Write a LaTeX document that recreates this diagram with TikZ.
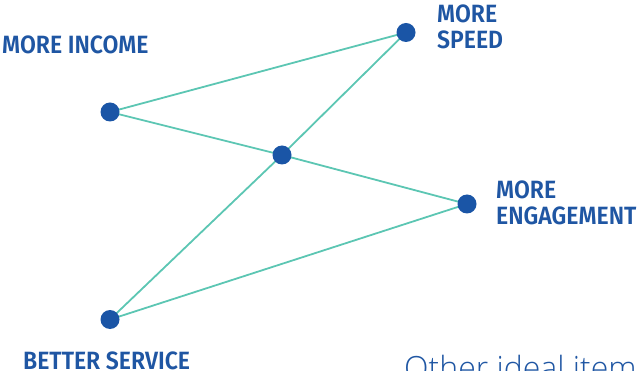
\documentclass[tikz,border=0pt]{standalone}
\usepackage{fontspec}
\setmainfont{Fira Sans}
\newfontfamily\lblfont{Fira Sans SemiBold}[FakeStretch=0.92]
\newfontfamily\otherfont{Open Sans Light}
\usetikzlibrary{backgrounds}
\definecolor{dotblue}{HTML}{1A55A6}
\definecolor{txtblue}{HTML}{1F56A3}
\definecolor{teal}{HTML}{5CC6B3}
\tikzset{
  dot/.style={circle, fill=dotblue, minimum size=19pt, inner sep=0pt},
  link/.style={draw=teal, line width=1.8pt},
  lbl/.style={anchor=base west, inner sep=0pt, text=txtblue, align=left,
    font=\lblfont\fontsize{25}{26}\selectfont},
}
\begin{document}
\begin{tikzpicture}[x=1pt, y=-1pt]
\useasboundingbox (0,0) rectangle (637,371);
\clip (0,0) rectangle (637,371);
\node[dot] (inc) at (110,112) {};
\node[dot] (spd) at (406,32.5) {};
\node[dot] (mid) at (282,155) {};
\node[dot] (eng) at (467,204) {};
\node[dot] (svc) at (110,319.5) {};
\begin{scope}[on background layer]
\draw[link] (inc.center) -- (spd.center);
\draw[link] (inc.center) -- (mid.center);
\draw[link] (mid.center) -- (spd.center);
\draw[link] (mid.center) -- (eng.center);
\draw[link] (mid.center) -- (svc.center);
\draw[link] (svc.center) -- (eng.center);
\end{scope}
\node[lbl] (tinc) at (2,54) {MORE INCOME};
\node[lbl] (tspd) at (437,49) {MORE\\SPEED};
\node[lbl] (teng) at (496,225) {MORE\\ENGAGEMENT};
\node[lbl] (tsvc) at (23,369.5) {BETTER SERVICE};
\node[anchor=base west, inner sep=0pt, text=txtblue, font=\otherfont\fontsize{32}{34}\selectfont] (toth) at (404,379) {Other ideal item};
\end{tikzpicture}
\end{document}
